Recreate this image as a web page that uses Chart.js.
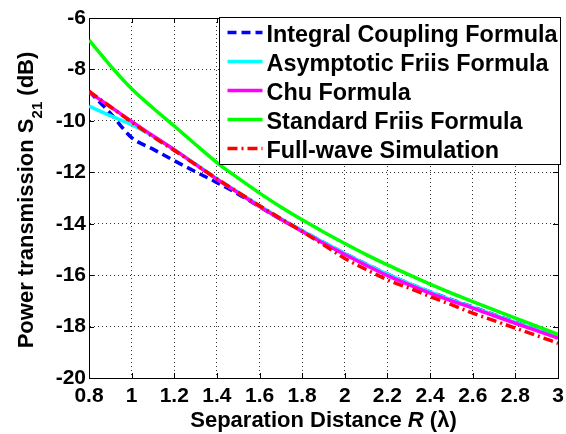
<!DOCTYPE html>
<html>
<head>
<meta charset="utf-8">
<script src="https://cdn.jsdelivr.net/npm/chart.js@4/dist/chart.umd.min.js"></script>
<style>
  html, body { margin: 0; padding: 0; background: #fff; }
  #wrap { width: 566px; height: 434px; position: relative; }
</style>
</head>
<body>
<div id="wrap"><canvas id="c" width="566" height="434"></canvas></div>
<script>
// --- data ---
const distance = [0.8, 0.9, 1.0, 1.1, 1.2, 1.3, 1.4, 1.5, 1.6, 1.7, 1.8, 1.9, 2.0, 2.1, 2.2, 2.3, 2.4, 2.5, 2.6, 2.7, 2.8, 2.9, 3.0];
const integralCoupling = [-8.85, -9.70, -10.65, -11.10, -11.55, -11.98, -12.40, -12.85, -13.34, -13.83, -14.28, -14.72, -15.16, -15.57, -15.96, -16.32, -16.65, -16.95, -17.24, -17.54, -17.83, -18.12, -18.42];
const asymptoticFriis = [-9.43, -9.80, -10.15, -10.60, -11.12, -11.68, -12.25, -12.78, -13.30, -13.80, -14.27, -14.72, -15.16, -15.57, -15.96, -16.32, -16.65, -16.96, -17.25, -17.55, -17.84, -18.13, -18.42];
const chuFormula = [-8.88, -9.45, -10.02, -10.58, -11.12, -11.70, -12.27, -12.80, -13.33, -13.83, -14.30, -14.76, -15.20, -15.62, -16.02, -16.37, -16.70, -17.00, -17.28, -17.58, -17.87, -18.16, -18.45];
const standardFriis = [-6.86, -7.85, -8.75, -9.50, -10.20, -10.92, -11.62, -12.23, -12.81, -13.35, -13.85, -14.32, -14.77, -15.20, -15.60, -15.98, -16.35, -16.70, -17.03, -17.35, -17.67, -17.98, -18.30];
const fullWave = [-8.85, -9.45, -10.05, -10.62, -11.15, -11.70, -12.25, -12.78, -13.30, -13.80, -14.30, -14.82, -15.35, -15.78, -16.18, -16.50, -16.83, -17.15, -17.48, -17.77, -18.06, -18.35, -18.65];
const seriesNames = ['Integral Coupling Formula', 'Asymptotic Friis Formula', 'Chu Formula', 'Standard Friis Formula', 'Full-wave Simulation'];
const yTicks = [-20, -18, -16, -14, -12, -10, -8, -6];
const xTicks = [0.8, 1, 1.2, 1.4, 1.6, 1.8, 2, 2.2, 2.4, 2.6, 2.8, 3];

const FONT = '"Liberation Sans", Arial, sans-serif';
const pts = arr => arr.map((v, i) => ({ x: distance[i], y: v }));

const mkSet = (label, data, color, dash, order) => ({
    label, data: pts(data), borderColor: color, backgroundColor: color,
    borderWidth: 3.5, borderDash: dash, pointRadius: 0, fill: false,
    cubicInterpolationMode: 'monotone', order
});

// legend + box + axis titles drawn by hand (matlab style)
const decor = {
    id: 'decor',
    afterDraw(chart) {
        const ctx = chart.ctx, ca = chart.chartArea;
        ctx.save();
        // box top/right
        ctx.strokeStyle = '#000'; ctx.lineWidth = 1;
        ctx.beginPath();
        ctx.moveTo(ca.left, ca.top + 0.5); ctx.lineTo(ca.right + 0.5, ca.top + 0.5);
        ctx.lineTo(ca.right + 0.5, ca.bottom);
        ctx.stroke();
        // inward ticks
        const xs = chart.scales.x, ys = chart.scales.y;
        ctx.beginPath();
        xs.ticks.forEach(t => {
            const px = Math.round(xs.getPixelForValue(t.value)) + 0.5;
            ctx.moveTo(px, ca.bottom); ctx.lineTo(px, ca.bottom - 5);
            ctx.moveTo(px, ca.top); ctx.lineTo(px, ca.top + 5);
        });
        ys.ticks.forEach(t => {
            const py = Math.round(ys.getPixelForValue(t.value)) + 0.5;
            ctx.moveTo(ca.left, py); ctx.lineTo(ca.left + 5, py);
            ctx.moveTo(ca.right, py); ctx.lineTo(ca.right - 5, py);
        });
        ctx.stroke();

        // legend
        const L = Math.round(ca.right - 339) + 0.5, T = Math.round(ca.top - 1) + 0.5;
        const W = 341, H = 147;
        ctx.fillStyle = '#fff';
        ctx.fillRect(L, T, W, H);
        ctx.strokeRect(L, T, W, H);
        ctx.font = 'bold 23.4px ' + FONT;
        ctx.textBaseline = 'alphabetic';
        chart.data.datasets.forEach((ds, i) => {
            const yLine = T + 15 + i * 29;
            ctx.strokeStyle = ds.borderColor;
            ctx.lineWidth = 3.5;
            ctx.setLineDash(ds.borderDash || []);
            ctx.beginPath();
            ctx.moveTo(L + 8, yLine); ctx.lineTo(L + 43, yLine);
            ctx.stroke();
            ctx.setLineDash([]);
            ctx.fillStyle = '#000';
            ctx.fillText(ds.label, L + 47, yLine + 9.5);
        });

        // x title
        ctx.fillStyle = '#000';
        const xParts = [['Separation Distance ', 'bold 22px '], ['R', 'italic bold 22px '], [' (λ)', 'bold 22px ']];
        let tw = 0;
        xParts.forEach(p => { ctx.font = p[1] + FONT; tw += ctx.measureText(p[0]).width; });
        let x0 = (ca.left + ca.right) / 2 - tw / 2;
        xParts.forEach(p => { ctx.font = p[1] + FONT; ctx.fillText(p[0], x0, 427); x0 += ctx.measureText(p[0]).width; });

        // y title (rotated, with subscript)
        ctx.translate(33, (ca.top + ca.bottom) / 2 + 2);
        ctx.rotate(-Math.PI / 2);
        const yParts = [['Power transmission S', 'bold 22px ', 0], ['21', 'bold 15px ', 9], [' (dB)', 'bold 22px ', 0]];
        tw = 0;
        yParts.forEach(p => { ctx.font = p[1] + FONT; tw += ctx.measureText(p[0]).width; });
        x0 = -tw / 2;
        yParts.forEach(p => { ctx.font = p[1] + FONT; ctx.fillText(p[0], x0, p[2]); x0 += ctx.measureText(p[0]).width; });
        ctx.restore();
    }
};

new Chart(document.getElementById('c'), {
    type: 'line',
    data: {
        datasets: [
            mkSet(seriesNames[0], integralCoupling, '#0000ff', [9, 5], 5),
            mkSet(seriesNames[1], asymptoticFriis, '#00ffff', [], 4),
            mkSet(seriesNames[2], chuFormula, '#ff00ff', [], 3),
            mkSet(seriesNames[3], standardFriis, '#00ff00', [], 2),
            mkSet(seriesNames[4], fullWave, '#ff0000', [10, 4, 2, 4], 1)
        ]
    },
    options: {
        responsive: false,
        animation: false,
        layout: { padding: { top: 18, right: 8, left: 0, bottom: 0 } },
        plugins: { legend: { display: false }, tooltip: { enabled: false } },
        scales: {
            x: {
                type: 'linear', min: 0.8, max: 3,
                afterBuildTicks: s => { s.ticks = xTicks.map(v => ({ value: v })); },
                afterFit: s => { s.height = 56; s.paddingLeft = 0; s.paddingRight = 0; },
                ticks: {
                    color: '#000', padding: 6, maxRotation: 0, autoSkip: false,
                    font: { family: FONT, size: 21, weight: 'bold' },
                    callback: v => String(+v.toFixed(1))
                },
                grid: { color: '#333', lineWidth: 1, drawTicks: false },
                border: { color: '#000', width: 1, dash: [1, 3] }
            },
            y: {
                min: -20, max: -6,
                afterBuildTicks: s => { s.ticks = yTicks.map(v => ({ value: v })); },
                afterFit: s => { s.width = 89; s.paddingTop = 0; s.paddingBottom = 0; },
                ticks: {
                    color: '#000', padding: 3,
                    font: { family: FONT, size: 21, weight: 'bold' }
                },
                grid: { color: '#333', lineWidth: 1, drawTicks: false },
                border: { color: '#000', width: 1, dash: [1, 3] }
            }
        }
    },
    plugins: [decor]
});
</script>
</body>
</html>
